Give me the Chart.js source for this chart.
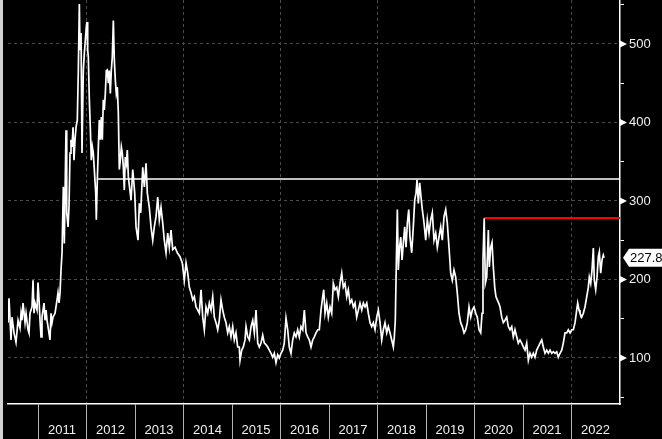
<!DOCTYPE html>
<html><head><meta charset="utf-8">
<script src="https://cdn.jsdelivr.net/npm/chart.js@4.4.0/dist/chart.umd.min.js"></script>
<style>
html,body{margin:0;padding:0;background:#000;overflow:hidden}
body{width:662px;height:439px;position:relative}
#strip{position:absolute;left:0;top:0;width:3px;height:439px;background:#d2d2d2}
#c{position:absolute;left:3px;top:0}
</style></head><body><div id="strip"></div><canvas id="c" width="659" height="439"></canvas>
<script>
// time in decimal years
const times = [
2010.381,2010.402,2010.443,2010.464,2010.505,2010.546,2010.588,2010.629,2010.650,2010.670,2010.691,2010.732,2010.753,2010.794,2010.814,2010.835,2010.876,2010.897,2010.918,2010.938,2010.979,
2011.000,2011.021,2011.041,2011.062,2011.082,2011.124,2011.144,2011.165,2011.186,2011.247,2011.268,2011.289,2011.309,2011.351,2011.392,2011.412,2011.433,2011.454,2011.474,2011.495,2011.522,2011.542,2011.577,2011.592,2011.619,2011.639,2011.660,2011.680,2011.701,2011.722,2011.742,2011.763,2011.784,2011.810,2011.831,2011.852,2011.866,2011.887,2011.907,2011.934,2011.955,2011.976,2011.996,
2012.010,2012.024,2012.037,2012.058,2012.078,2012.099,2012.120,2012.140,2012.161,2012.190,2012.202,2012.223,2012.244,2012.264,2012.285,2012.305,2012.326,2012.346,2012.367,2012.388,2012.408,2012.429,2012.450,2012.470,2012.491,2012.511,2012.532,2012.553,2012.573,2012.594,2012.614,2012.635,2012.656,2012.676,2012.697,2012.718,2012.738,2012.759,2012.779,2012.800,2012.821,2012.841,2012.862,2012.918,2012.953,2012.994,
2013.021,2013.062,2013.089,2013.118,2013.159,2013.192,2013.227,2013.254,2013.295,2013.330,2013.365,2013.398,2013.433,2013.468,2013.501,2013.536,2013.571,2013.604,2013.639,2013.674,2013.707,2013.742,2013.777,2013.825,2013.872,2013.928,2013.975,
2014.016,2014.052,2014.087,2014.120,2014.155,2014.190,2014.223,2014.258,2014.293,2014.326,2014.361,2014.396,2014.429,2014.464,2014.499,2014.532,2014.567,2014.602,2014.635,2014.670,2014.705,2014.738,2014.773,2014.808,2014.841,2014.876,2014.911,2014.944,2014.979,
2015.014,2015.047,2015.082,2015.117,2015.150,2015.165,2015.200,2015.233,2015.268,2015.289,2015.324,2015.357,2015.392,2015.427,2015.460,2015.495,2015.530,2015.563,2015.598,2015.633,2015.666,2015.701,2015.736,2015.769,2015.804,2015.839,2015.872,2015.907,2015.942,2015.975,
2016.010,2016.045,2016.078,2016.113,2016.148,2016.181,2016.216,2016.251,2016.284,2016.319,2016.354,2016.387,2016.423,2016.458,2016.491,2016.526,2016.561,2016.594,2016.629,2016.664,2016.697,2016.732,2016.767,2016.800,2016.835,2016.870,2016.891,2016.918,2016.953,2016.986,
2017.021,2017.056,2017.089,2017.124,2017.159,2017.192,2017.227,2017.262,2017.295,2017.330,2017.365,2017.398,2017.433,2017.468,2017.502,2017.536,2017.571,2017.605,2017.639,2017.675,2017.708,2017.743,2017.778,2017.811,2017.846,2017.881,2017.914,2017.949,2017.984,
2018.017,2018.052,2018.087,2018.120,2018.155,2018.190,2018.223,2018.258,2018.293,2018.326,2018.347,2018.367,2018.388,2018.409,2018.429,2018.450,2018.479,2018.506,2018.533,2018.561,2018.588,2018.615,2018.644,2018.670,2018.705,2018.738,2018.767,2018.794,2018.815,2018.842,2018.870,2018.897,2018.924,2018.959,2018.994,
2019.027,2019.062,2019.097,2019.130,2019.165,2019.200,2019.233,2019.268,2019.303,2019.336,2019.371,2019.406,2019.439,2019.474,2019.509,2019.542,2019.577,2019.612,2019.645,2019.680,2019.715,2019.748,2019.784,2019.819,2019.852,2019.887,2019.922,2019.955,2019.990,
2020.025,2020.058,2020.093,2020.128,2020.155,2020.175,2020.200,2020.223,2020.252,2020.285,2020.305,2020.334,2020.361,2020.388,2020.417,2020.443,2020.470,2020.499,2020.526,2020.561,2020.594,2020.629,2020.664,2020.697,2020.732,2020.767,2020.800,2020.835,2020.870,2020.903,2020.938,2020.973,
2021.007,2021.041,2021.076,2021.110,2021.144,2021.179,2021.212,2021.247,2021.282,2021.315,2021.351,2021.386,2021.419,2021.454,2021.489,2021.522,2021.557,2021.592,2021.625,2021.660,2021.695,2021.728,2021.763,2021.798,2021.831,2021.866,2021.901,2021.934,2021.970,
2022.004,2022.038,2022.073,2022.107,2022.128,2022.155,2022.175,2022.210,2022.244,2022.278,2022.314,2022.347,2022.367,2022.396,2022.423,2022.450,2022.470,2022.499,2022.526,2022.553,2022.574,2022.602,2022.629,2022.656,2022.671
];
const values = [
145,176,123,152,132,120,148,138,157,148,170,145,157,136,132,157,165,199,157,170,161,
196,174,148,127,152,170,148,161,148,123,157,145,152,157,174,183,170,183,212,234,318,246,390,285,267,293,361,378,369,394,352,378,394,403,466,551,492,514,361,466,488,505,522,
528,492,484,429,394,352,369,361,340,310,276,327,369,403,378,407,378,429,416,437,466,467,450,466,437,466,484,530,480,454,437,445,412,340,352,369,361,343,314,356,348,365,331,301,340,310,
267,250,297,285,343,318,348,310,292,267,250,267,280,305,276,292,272,250,234,259,241,263,238,241,234,229,221,
199,221,208,190,183,174,178,165,161,157,187,152,136,165,157,170,161,178,152,145,136,148,174,161,152,145,132,140,127,
140,123,132,114,114,97,110,114,123,140,127,123,140,148,132,161,119,114,119,129,119,117,114,110,106,101,106,94,104,100,
106,110,119,151,136,114,106,123,132,127,136,127,140,136,161,132,127,123,114,123,127,132,136,136,161,178,187,157,170,152,
165,157,195,187,190,178,195,208,190,195,178,187,170,174,165,170,152,161,170,161,170,165,170,157,145,140,145,136,152,
161,145,123,136,145,132,140,132,123,114,127,148,221,289,212,238,254,225,247,267,241,272,289,254,234,267,301,310,327,297,323,305,289,272,250,
276,259,276,285,250,259,241,254,267,250,280,289,272,241,208,199,212,203,183,157,145,140,132,136,145,165,152,161,165,
157,152,136,132,157,225,278,195,203,263,216,241,247,216,190,178,174,170,165,152,145,148,152,140,136,140,127,136,127,119,123,119,
114,110,119,97,106,101,106,101,110,114,119,123,114,106,110,106,110,106,108,106,108,101,106,110,119,132,132,136,132,
136,136,145,161,170,161,157,152,157,165,178,190,203,195,212,240,199,187,203,229,235,208,225,231,227.82
];
const yearTicks = [2011,2012,2013,2014,2015,2016,2017,2018,2019,2020,2021,2022];
const gridYears = [2012,2014,2016,2018,2020,2022];
const yTickValues = [50,100,150,200,250,300,350,400,450,500,550];
const yLabelValues = [100,200,300,400,500];
const xRange = [2010.381, 2023.0];
const yRange = [41.4, 556];
const whiteLevel = {from: 2012.24, to: 2023.0, level: 328};
const redLevel = {from: 2020.2, to: 2023.0, level: 278.4};
const lastValue = 227.82;

const FONT = {family: "'Liberation Sans', Arial, sans-serif", size: 13};
const series = times.map((t, i) => ({x: t, y: values[i]}));

const markers = {
  id: 'markers',
  afterDraw(chart) {
    const ys = chart.scales.y, ctx = chart.ctx;
    ctx.save();
    ctx.fillStyle = '#ffffff';
    yLabelValues.forEach(v => {
      const py = ys.getPixelForValue(v);
      ctx.beginPath();
      ctx.moveTo(ys.left, py - 3.5);
      ctx.lineTo(ys.left + 7, py);
      ctx.lineTo(ys.left, py + 3.5);
      ctx.closePath();
      ctx.fill();
    });
    const py = ys.getPixelForValue(lastValue);
    const x0 = ys.left + 3;
    ctx.beginPath();
    ctx.moveTo(x0, py);
    ctx.lineTo(x0 + 6, py - 9);
    ctx.lineTo(chart.width + 2, py - 9);
    ctx.lineTo(chart.width + 2, py + 9);
    ctx.lineTo(x0 + 6, py + 9);
    ctx.closePath();
    ctx.fill();
    ctx.fillStyle = '#000';
    ctx.font = "13px 'Liberation Sans', Arial, sans-serif";
    ctx.textBaseline = 'middle';
    ctx.textAlign = 'left';
    ctx.fillText(lastValue.toFixed(2), x0 + 7, py + 1);
    ctx.restore();
  }
};

const noPad = s => { s.paddingTop = 0; s.paddingBottom = 0; s.paddingLeft = 0; s.paddingRight = 0; };

new Chart(document.getElementById('c'), {
  type: 'line',
  data: {datasets: [
    {data: series, borderColor: '#ffffff', borderWidth: 1.7, pointRadius: 0, tension: 0},
    {data: [{x: whiteLevel.from, y: whiteLevel.level}, {x: whiteLevel.to, y: whiteLevel.level}], borderColor: '#ffffff', borderWidth: 1.5, pointRadius: 0},
    {data: [{x: redLevel.from, y: redLevel.level}, {x: redLevel.to, y: redLevel.level}], borderColor: '#ff0000', borderWidth: 2, pointRadius: 0}
  ]},
  options: {
    responsive: false, animation: false, devicePixelRatio: 1,
    layout: {padding: {left: 5, top: 0, right: 0, bottom: 0}},
    plugins: {legend: {display: false}, tooltip: {enabled: false}},
    scales: {
      x: {
        type: 'linear', position: 'bottom', min: xRange[0], max: xRange[1],
        afterBuildTicks: s => { s.ticks = yearTicks.map(v => ({value: v})); },
        afterFit: s => { s.height = 35; noPad(s); },
        ticks: {autoSkip: false, maxRotation: 0, minRotation: 0, labelOffset: 24, padding: -16,
          color: '#f0f0f0', font: FONT, callback: v => String(v)},
        grid: {
          color: c => (c.tick && gridYears.includes(c.tick.value)) ? '#4a4a4a' : 'rgba(0,0,0,0)',
          lineWidth: 1, tickColor: '#b4b4b4', tickLength: 35, tickWidth: 1
        },
        border: {display: true, color: '#ffffff', width: 1.5, dash: [3, 3]}
      },
      y: {
        type: 'linear', position: 'right', min: yRange[0], max: yRange[1],
        afterBuildTicks: s => { s.ticks = yTickValues.map(v => ({value: v})); },
        afterFit: s => { s.width = 42; noPad(s); },
        ticks: {autoSkip: false, padding: 5, color: '#f0f0f0', font: FONT,
          callback: v => yLabelValues.includes(v) ? String(v) : ''},
        grid: {
          color: c => (c.tick && yLabelValues.includes(c.tick.value)) ? '#4a4a4a' : 'rgba(0,0,0,0)',
          tickColor: c => (c.tick && yLabelValues.includes(c.tick.value)) ? 'rgba(0,0,0,0)' : '#ffffff',
          tickLength: 4, lineWidth: 1
        },
        border: {display: true, color: '#ffffff', width: 1.5, dash: [3, 3]}
      }
    }
  },
  plugins: [markers]
});
</script>
</body></html>
